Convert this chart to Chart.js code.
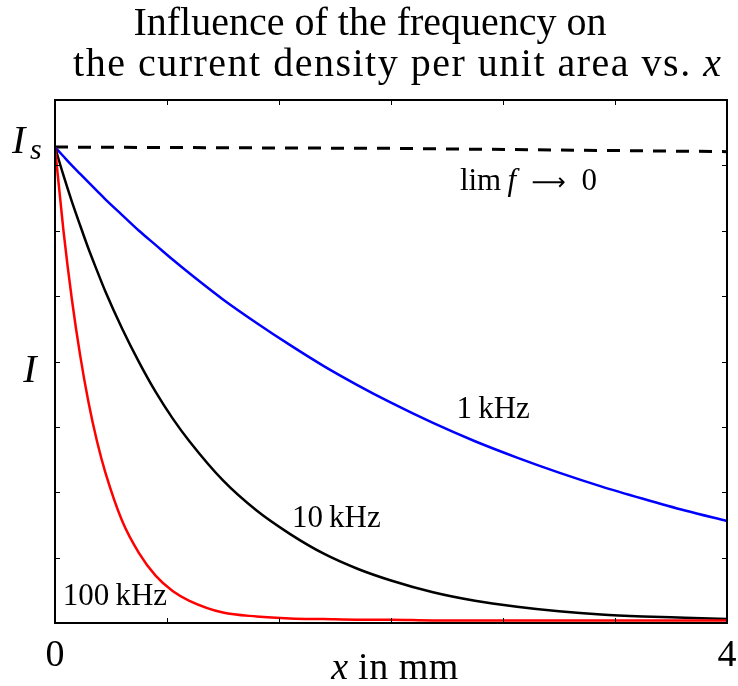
<!DOCTYPE html>
<html>
<head>
<meta charset="utf-8">
<script src="https://cdn.jsdelivr.net/npm/chart.js@4.4.1/dist/chart.umd.min.js"></script>
<style>
  html, body { margin: 0; padding: 0; background: #fff; }
  #wrap { width: 738px; height: 686px; position: relative; }
</style>
</head>
<body>
<div id="wrap"><canvas id="skinChart"></canvas></div>
<script>
// depth into the conductor (mm)
const depthMm = [0, 0.05, 0.1, 0.15, 0.2, 0.25, 0.3, 0.4, 0.5, 0.6, 0.7, 0.8, 1.0, 1.2, 1.4, 1.6, 1.8, 2.0, 2.25, 2.5, 2.75, 3.0, 3.25, 3.5, 3.75, 4.0];

// current density, same units as the y axis (I_s at the surface)
const current1kHz = [7.28, 7.14, 7.00, 6.87, 6.74, 6.61, 6.48, 6.24, 6.00, 5.78, 5.56, 5.35, 4.95, 4.59, 4.25, 3.93, 3.64, 3.37, 3.06, 2.78, 2.53, 2.30, 2.09, 1.90, 1.72, 1.56];
const current10kHz = [7.28, 6.85, 6.45, 6.08, 5.72, 5.39, 5.07, 4.50, 3.99, 3.53, 3.13, 2.78, 2.18, 1.72, 1.36, 1.06, 0.83, 0.65, 0.47, 0.34, 0.25, 0.18, 0.13, 0.10, 0.08, 0.06];
const current100kHz = [7.28, 6.01, 4.96, 4.09, 3.37, 2.78, 2.30, 1.56, 1.07, 0.72, 0.49, 0.34, 0.16, 0.10, 0.07, 0.06, 0.05, 0.05, 0.04, 0.04, 0.04, 0.04, 0.04, 0.04, 0.04, 0.04];

// low frequency limit (dashed)
const limDepth = [0, 2, 4];
const limCurrent = [7.28, 7.26, 7.21];

const surfaceCurrent = 7.28;

// axes
const xRange = [0, 4];
const yRange = [0, 8];
const xTickLabels = [0, 4];
const xTickMarks = [0.667, 1.333, 2, 2.667, 3.333];
const yTickMarks = [1, 2, 3, 4, 5, 6, 7];

const SERIF = '"Liberation Serif", "Times New Roman", serif';

function pts(xs, ys) {
    return xs.map((x, i) => ({ x: x, y: ys[i] }));
}

// draw a sequence of [text, font, spacing] pieces starting at x
function drawRuns(ctx, runs, x, y, align) {
    const setFont = r => {
        ctx.font = r[1];
        if ('letterSpacing' in ctx) ctx.letterSpacing = (r[2] || 0) + 'px';
    };
    let total = 0;
    runs.forEach(r => { setFont(r); total += ctx.measureText(r[0]).width; });
    let cx = x;
    if (align === 'center') cx = x - total / 2;
    ctx.textAlign = 'left';
    ctx.textBaseline = 'alphabetic';
    runs.forEach(r => {
        setFont(r);
        ctx.fillText(r[0], cx, y);
        cx += ctx.measureText(r[0]).width;
    });
    if ('letterSpacing' in ctx) ctx.letterSpacing = '0px';
}

const framePlugin = {
    id: 'frame',
    afterDatasetsDraw(chart) {
        const ctx = chart.ctx;
        const a = chart.chartArea;
        const xs = chart.scales.x;
        const ys = chart.scales.y;
        ctx.save();
        ctx.strokeStyle = '#000';

        // inward tick marks
        ctx.lineWidth = 1;
        ctx.beginPath();
        xTickMarks.forEach(v => {
            const px = Math.round(xs.getPixelForValue(v)) + 0.5;
            ctx.moveTo(px, a.bottom); ctx.lineTo(px, a.bottom - 5);
            ctx.moveTo(px, a.top); ctx.lineTo(px, a.top + 5);
        });
        yTickMarks.forEach(v => {
            const py = Math.round(ys.getPixelForValue(v)) + 0.5;
            ctx.moveTo(a.left, py); ctx.lineTo(a.left + 5, py);
            ctx.moveTo(a.right, py); ctx.lineTo(a.right - 5, py);
        });
        ctx.stroke();

        // axes box
        ctx.lineWidth = 2;
        ctx.strokeRect(a.left, a.top, a.right - a.left, a.bottom - a.top);

        ctx.fillStyle = '#000';

        // x tick labels and label
        ctx.font = '38px ' + SERIF;
        ctx.textAlign = 'center';
        ctx.textBaseline = 'alphabetic';
        xTickLabels.forEach(v => {
            ctx.fillText(String(v), xs.getPixelForValue(v), 666);
        });
        drawRuns(ctx, [['x', 'italic 38px ' + SERIF], [' in mm', '38px ' + SERIF, 0.5]],
            (a.left + a.right) / 2 + 4, 679, 'center');

        // y labels: I_s at the surface value, I at the middle
        const ySurf = ys.getPixelForValue(surfaceCurrent);
        ctx.textAlign = 'left';
        ctx.font = 'italic 40px ' + SERIF;
        ctx.fillText('I', 12, ySurf + 6);
        ctx.font = 'italic 30px ' + SERIF;
        ctx.fillText('s', 30, ySurf + 12);
        ctx.font = 'italic 40px ' + SERIF;
        ctx.textAlign = 'center';
        ctx.fillText('I', 30, ys.getPixelForValue(4) + 20);

        // curve annotations
        const up = '31px ' + SERIF;
        const it = 'italic 31px ' + SERIF;
        const at = (x, y) => [xs.getPixelForValue(x), ys.getPixelForValue(y)];
        let p = at(2.41, 6.63);
        drawRuns(ctx, [['lim', up], ['\u2009f', it], ['\u2002', up], ['\u27F6', '24px "DejaVu Sans", sans-serif'], ['\u20020', up]], p[0], p[1], 'left');
        p = at(2.39, 3.13);
        drawRuns(ctx, [['1\u2009kHz', up]], p[0], p[1], 'left');
        p = at(1.41, 1.47);
        drawRuns(ctx, [['10\u2009kHz', up]], p[0], p[1], 'left');
        p = at(0.046, 0.275);
        drawRuns(ctx, [['100\u2009kHz', up]], p[0], p[1], 'left');

        // title
        drawRuns(ctx, [['Influence of the frequency on', '40px ' + SERIF]], 370, 35, 'center');
        drawRuns(ctx, [['the current density per unit area vs. ', '40px ' + SERIF, 1.5], ['x', 'italic 40px ' + SERIF]], 397, 76, 'center');

        ctx.restore();
    }
};

const lineStyle = {
    pointRadius: 0,
    borderWidth: 2.5,
    fill: false,
    cubicInterpolationMode: 'monotone'
};

new Chart(document.getElementById('skinChart'), {
    type: 'line',
    data: {
        datasets: [
            Object.assign({ label: '100 kHz', data: pts(depthMm, current100kHz), borderColor: '#ff0000' }, lineStyle),
            Object.assign({ label: '10 kHz', data: pts(depthMm, current10kHz), borderColor: '#000000' }, lineStyle),
            Object.assign({ label: '1 kHz', data: pts(depthMm, current1kHz), borderColor: '#0000ff' }, lineStyle),
            Object.assign({ label: 'lim f -> 0', data: pts(limDepth, limCurrent), borderColor: '#000000' }, lineStyle,
                { borderWidth: 3, borderDash: [13, 10], cubicInterpolationMode: 'default', tension: 0 })
        ]
    },
    options: {
        responsive: true,
        maintainAspectRatio: false,
        animation: false,
        layout: { padding: { left: 55, top: 100, right: 11, bottom: 63 } },
        plugins: {
            legend: { display: false },
            tooltip: { enabled: false }
        },
        scales: {
            x: { type: 'linear', min: xRange[0], max: xRange[1], display: false },
            y: { type: 'linear', min: yRange[0], max: yRange[1], display: false }
        }
    },
    plugins: [framePlugin]
});
</script>
</body>
</html>
